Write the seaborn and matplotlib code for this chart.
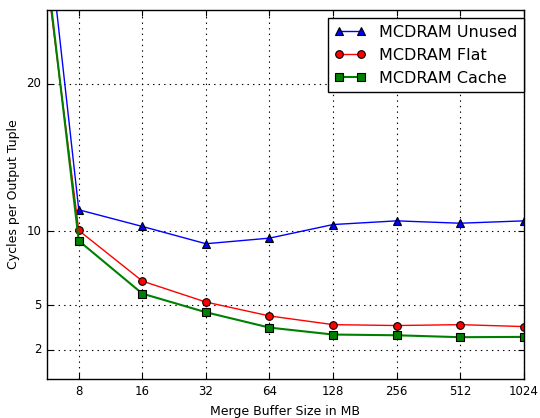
import matplotlib
matplotlib.use("Agg")
import matplotlib.pyplot as plt
import seaborn as sns
import pandas as pd

# Merge buffer sizes (MB) and measured cycles per output tuple
buffer_mb = [4, 8, 16, 32, 64, 128, 256, 512, 1024]
mcdram_unused = [50.3, 11.47, 10.34, 9.17, 9.55, 10.47, 10.72, 10.56, 10.72]
mcdram_flat = [44.3, 10.07, 6.64, 5.22, 4.28, 3.69, 3.63, 3.69, 3.56]
mcdram_cache = [46.0, 9.37, 5.79, 4.53, 3.49, 3.02, 2.97, 2.84, 2.86]

x_ticks = [8, 16, 32, 64, 128, 256, 512, 1024]
y_ticks = [2, 5, 10, 20]

plt.style.use("classic")
sns.set_style("ticks", {"xtick.direction": "in", "ytick.direction": "in",
                        "text.color": "black", "axes.labelcolor": "black",
                        "xtick.color": "black", "ytick.color": "black"})
plt.rcParams["font.family"] = ["DejaVu Sans"]

fig = plt.figure(figsize=(5.4, 4.18), dpi=100, facecolor="white")
ax = fig.add_axes([0.087, 0.093, 0.883, 0.883])

series = [
    ("MCDRAM Unused", mcdram_unused, "b", "^", 1.0),
    ("MCDRAM Flat", mcdram_flat, "r", "o", 1.0),
    ("MCDRAM Cache", mcdram_cache, "g", "s", 1.5),
]
for name, vals, color, marker, lw in series:
    df = pd.DataFrame({"size": buffer_mb, "cycles": vals})
    sns.lineplot(data=df, x="size", y="cycles", ax=ax, color=color,
                 marker=marker, markersize=5.5, markeredgecolor="k",
                 markeredgewidth=0.8, linewidth=lw, label=name,
                 estimator=None, sort=False)

ax.set_xscale("log", base=2)
ax.set_xlim(8 / 2 ** 0.5, 1024)
ax.set_ylim(0, 25)
ax.set_xticks(x_ticks)
ax.set_xticklabels([str(t) for t in x_ticks], fontsize=8.5)
ax.minorticks_off()
ax.set_yticks(y_ticks)
ax.set_yticklabels([str(t) for t in y_ticks], fontsize=8.5)
ax.tick_params(direction="in", top=True, right=True, length=4, width=0.8,
               colors="black")
ax.grid(True, linestyle=":", color="k", linewidth=0.8)
for s in ax.spines.values():
    s.set_visible(True)
    s.set_linewidth(1.0)
    s.set_color("k")

ax.set_xlabel("Merge Buffer Size in MB", fontsize=9, color="black")
ax.set_ylabel("Cycles per Output Tuple", fontsize=9, color="black")

leg = ax.legend(loc="upper right", bbox_to_anchor=(1.0, 0.978), numpoints=2,
                fontsize=11.5, frameon=True, fancybox=False, edgecolor="k",
                framealpha=1.0, borderaxespad=0.0, handlelength=2.0)
for t in leg.get_texts():
    t.set_color("black")

fig.savefig("out.png", dpi=100, facecolor="white")
